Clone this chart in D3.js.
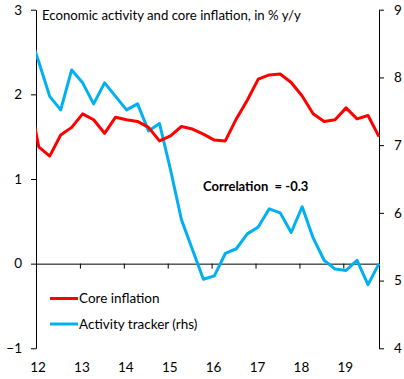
<!DOCTYPE html>
<html><head><meta charset="utf-8">
<script src="https://cdn.jsdelivr.net/npm/d3@7"></script>
<style>html,body{margin:0;padding:0;background:#fff;}svg{display:block;}</style>
</head><body>
<script>
const quarters = ["2011Q4","2012Q1","2012Q2","2012Q3","2012Q4","2013Q1","2013Q2","2013Q3","2013Q4","2014Q1","2014Q2","2014Q3","2014Q4","2015Q1","2015Q2","2015Q3","2015Q4","2016Q1","2016Q2","2016Q3","2016Q4","2017Q1","2017Q2","2017Q3","2017Q4","2018Q1","2018Q2","2018Q3","2018Q4","2019Q1","2019Q2","2019Q3","2019Q4"];
const coreInflation = [2.04,1.38,1.27,1.52,1.61,1.77,1.70,1.54,1.73,1.70,1.68,1.61,1.45,1.51,1.62,1.59,1.53,1.46,1.45,1.71,1.93,2.18,2.23,2.24,2.14,1.98,1.77,1.68,1.70,1.84,1.71,1.75,1.50];
const activityTracker = [8.72,8.23,7.72,7.52,8.11,7.92,7.61,7.92,7.72,7.52,7.61,7.21,7.32,6.64,5.90,5.46,5.02,5.07,5.40,5.47,5.69,5.79,6.06,6.00,5.71,6.09,5.63,5.30,5.17,5.15,5.30,4.94,5.25];
const yearLabels = ["12","13","14","15","16","17","18","19"];
const leftTicks = [-1,0,1,2,3];
const rightTicks = [4,5,6,7,8,9];
const title = "Economic activity and core inflation, in % y/y";
const seriesNames = ["Core inflation","Activity tracker (rhs)"];
const annotation = "Correlation  = -0.3";

const W = 404, H = 379;
const FONT = "Lato, 'Open Sans', sans-serif";
const svg = d3.select("body").append("svg").attr("width", W).attr("height", H);

const pL = 36, pR = 379, pT = 9.7, pB = 348.3;
const x = d3.scaleLinear().domain([2012, 2019.8125]).range([pL, pR]);
const yL = d3.scaleLinear().domain([-1, 3]).range([pB, pT]);
const yR = d3.scaleLinear().domain([4, 9]).range([pB, pT]);
const tOf = q => +q.slice(0,4) + (+q.slice(5) - 1) / 4 + 0.0625;

svg.append("defs").append("clipPath").attr("id","clip")
  .append("rect").attr("x", pL).attr("y", 0).attr("width", pR - pL + 2).attr("height", H);

// x axis at zero
const xAxis = d3.axisBottom(x)
  .tickValues(yearLabels.map(d => 2000 + +d))
  .tickSize(5).tickSizeOuter(0).tickFormat(() => "");
const gx = svg.append("g").attr("transform", `translate(0,${yL(0)})`).call(xAxis);
gx.select(".domain").attr("stroke", "#000").attr("stroke-width", 1);
gx.selectAll(".tick line").attr("stroke", "#000");
gx.selectAll(".tick").filter(d => d === 2012).remove();

// year labels at bottom
svg.append("g").selectAll("text").data(yearLabels).join("text")
  .attr("x", d => x(2000 + +d) + 2).attr("y", 372)
  .attr("text-anchor", "middle").attr("font-family", FONT).attr("font-size", 13.5).attr("fill", "#000")
  .text(d => d);

// left axis
const gl = svg.append("g").attr("transform", `translate(${pL},0)`)
  .call(d3.axisLeft(yL).tickValues(leftTicks).tickSize(5).tickSizeOuter(0).tickPadding(9).tickFormat(d3.format("d")));
gl.selectAll("text").attr("font-family", FONT).attr("font-size", 13.5).attr("fill", "#000");
gl.select(".domain").attr("stroke", "#000");
gl.selectAll(".tick line").attr("stroke", "#000");

// right axis
const gr = svg.append("g").attr("transform", `translate(${pR},0)`)
  .call(d3.axisRight(yR).tickValues(rightTicks).tickSize(5).tickSizeOuter(0).tickPadding(10).tickFormat(d3.format("d")));
gr.selectAll("text").attr("font-family", FONT).attr("font-size", 13.5).attr("fill", "#000");
gr.select(".domain").attr("stroke", "#000");
gr.selectAll(".tick line").attr("stroke", "#000");

// lines
const lineL = d3.line().x((d,i) => x(tOf(quarters[i]))).y(d => yL(d));
const lineR = d3.line().x((d,i) => x(tOf(quarters[i]))).y(d => yR(d));
const gLines = svg.append("g").attr("clip-path", "url(#clip)");
gLines.append("path").datum(activityTracker).attr("d", lineR)
  .attr("fill","none").attr("stroke","#00B0F0").attr("stroke-width",3).attr("stroke-linejoin","round");
gLines.append("path").datum(coreInflation).attr("d", lineL)
  .attr("fill","none").attr("stroke","#FF0000").attr("stroke-width",3).attr("stroke-linejoin","round");

// title
svg.append("text").attr("x", 42).attr("y", 20).attr("font-family", FONT).attr("font-size", 13.2)
  .attr("fill","#000").text(title);

// annotation
svg.append("text").attr("x", 203).attr("y", 191).attr("font-family", FONT).attr("font-size", 13)
  .attr("font-weight","bold").attr("fill","#000").attr("xml:space","preserve").style("white-space","pre").text(annotation);

// legend
const legColors = ["#FF0000","#00B0F0"];
const lg = svg.append("g");
seriesNames.forEach((n,i) => {
  const yy = 298.5 + i * 25.5;
  lg.append("line").attr("x1", 50).attr("x2", 78).attr("y1", yy).attr("y2", yy)
    .attr("stroke", legColors[i]).attr("stroke-width", 3);
  lg.append("text").attr("x", 79).attr("y", yy + 4.5).attr("font-family", FONT).attr("font-size", 13.5)
    .attr("fill","#000").text(n);
});
</script>
</body></html>
